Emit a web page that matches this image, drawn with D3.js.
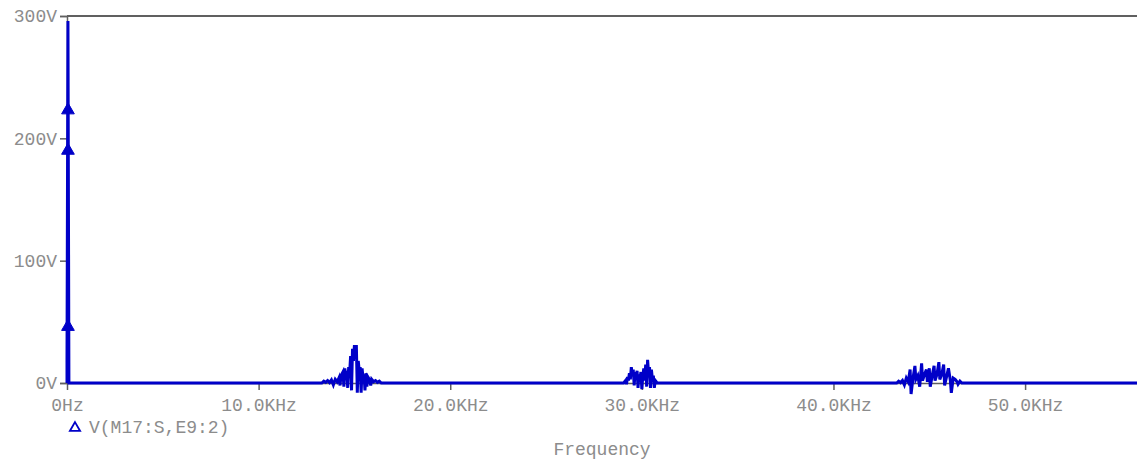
<!DOCTYPE html>
<html>
<head>
<meta charset="utf-8">
<script src="https://cdn.jsdelivr.net/npm/d3@7"></script>
<style>
  html, body { margin: 0; padding: 0; background: #fff; }
  svg { display: block; }
  .lbl { font-family: "Liberation Mono", "DejaVu Sans Mono", monospace; font-size: 18px; fill: #8c8c8c; }
</style>
</head>
<body>
<svg id="chart" width="1137" height="461"></svg>
<script>
// Frequency axis (kHz) and voltage axis (V)
const xTicks = [0, 10, 20, 30, 40, 50];
const xTickLabels = ["0Hz", "10.0KHz", "20.0KHz", "30.0KHz", "40.0KHz", "50.0KHz"];
const yTicks = [0, 100, 200, 300];
const yTickLabels = ["0V", "100V", "200V", "300V"];
const xMaxKHz = 55.84;

// Low-frequency spike near 0 Hz: [kHz, V]
const spike = [[0, 0], [0, 17], [0.05, 296], [0.1, 0]];
// Markers placed on the trace: [kHz, V]
const markers = [[0.05, 223], [0.05, 190], [0.05, 46]];

// Sideband cluster around 15 kHz: [kHz, V]
const band15 = [
  [13.30, 0], [13.40, 1.5], [13.50, 0.5], [13.60, 2.0], [13.70, 0.3], [13.80, 2.5],
  [13.90, -1.5], [14.00, 3.0], [14.10, 1.0], [14.20, 4.5], [14.25, -2], [14.30, 6],
  [14.40, 9], [14.45, -3], [14.50, 12], [14.55, 5], [14.60, 10], [14.65, -4],
  [14.70, 13], [14.75, 8], [14.80, 22], [14.85, -6], [14.90, 28], [14.95, 18],
  [15.00, 31], [15.05, 24], [15.10, 31], [15.15, -8], [15.20, 18], [15.25, 10],
  [15.30, 13], [15.35, -8], [15.40, 12], [15.45, 4], [15.50, 7], [15.55, -6],
  [15.60, 8], [15.65, -3], [15.70, 5], [15.80, 2.5], [15.85, -2], [15.90, 3],
  [16.00, 1], [16.10, 2], [16.20, 0.5], [16.30, 1.5], [16.40, 0]
];

// Sideband cluster around 30 kHz: [kHz, V]
const band30 = [
  [29.05, 0], [29.15, 2], [29.20, -1], [29.25, 5], [29.30, 2], [29.35, 8],
  [29.40, 3], [29.45, 13], [29.50, 6], [29.55, 11], [29.60, -2], [29.65, 9],
  [29.70, 4], [29.75, 10], [29.80, -4], [29.85, 7], [29.90, 3], [29.95, 9],
  [30.00, -5], [30.05, 6], [30.10, 12], [30.15, 2], [30.20, 15], [30.25, -3],
  [30.30, 19], [30.35, 8], [30.40, 13], [30.45, -4], [30.50, 11], [30.55, 3],
  [30.60, 6], [30.65, -4], [30.70, 2], [30.80, 0]
];

// Sideband cluster around 45 kHz: [kHz, V]
const band45 = [
  [43.30, 0], [43.40, 1.5], [43.50, 0.3], [43.60, 2], [43.70, -1.5], [43.80, 4],
  [43.90, 1], [44.00, 11], [44.05, -9], [44.15, 4], [44.25, 14], [44.30, 3],
  [44.40, 6], [44.50, -3], [44.60, 16], [44.65, 2], [44.75, 7], [44.85, 11],
  [44.90, 1], [45.00, 12], [45.05, -3], [45.15, 6], [45.25, 14], [45.30, 2],
  [45.40, 7], [45.50, 17], [45.55, 3], [45.65, 7], [45.75, 15], [45.80, -2],
  [45.90, 5], [46.00, 12], [46.10, 2], [46.15, -8], [46.25, 4], [46.35, 3],
  [46.45, 1], [46.50, -1], [46.60, 1.5], [46.70, 0]
];

const seriesName = "V(M17:S,E9:2)";
const xTitle = "Frequency";

const trace = [].concat(spike, band15, band30, band45, [[xMaxKHz, 0]]);

const margin = { left: 67, right: 0, top: 16, bottom: 78 };
const W = 1137, H = 461;
const svg = d3.select("#chart");

const x = d3.scaleLinear().domain([0, xMaxKHz]).range([margin.left, W - margin.right]);
const y = d3.scaleLinear().domain([0, 300]).range([H - margin.bottom, margin.top]);

const axisColor = "#606060";
const traceColor = "#0000c8";

// top frame line
svg.append("line")
  .attr("x1", x(0)).attr("x2", x(xMaxKHz))
  .attr("y1", y(300)).attr("y2", y(300))
  .attr("stroke", axisColor).attr("stroke-width", 2);

// y axis
const yAxis = d3.axisLeft(y).tickValues(yTicks)
  .tickFormat((d, i) => yTickLabels[i]).tickSize(7).tickPadding(3);
const gy = svg.append("g").attr("transform", `translate(${x(0)},0)`).call(yAxis);
gy.select(".domain").attr("stroke", axisColor).attr("stroke-width", 1.5);
gy.selectAll(".tick line").attr("stroke", axisColor).attr("stroke-width", 1.5);
gy.selectAll(".tick text").attr("class", "lbl").attr("font-size", null).attr("font-family", null);

// x axis
const xAxis = d3.axisBottom(x).tickValues(xTicks)
  .tickFormat((d, i) => xTickLabels[i]).tickSize(7).tickPadding(8).tickSizeOuter(0);
const gx = svg.append("g").attr("transform", `translate(0,${y(0)})`).call(xAxis);
gx.select(".domain").attr("stroke", axisColor).attr("stroke-width", 1.5);
gx.selectAll(".tick line").attr("stroke", axisColor).attr("stroke-width", 1.5);
gx.selectAll(".tick text").attr("class", "lbl").attr("font-size", null).attr("font-family", null);

// trace
const line = d3.line().x(d => x(d[0])).y(d => y(d[1]));
svg.append("path")
  .datum(trace)
  .attr("d", line)
  .attr("fill", "none")
  .attr("stroke", traceColor)
  .attr("stroke-width", 3)
  .attr("stroke-linejoin", "miter");

// markers
const tri = d3.symbol().type(d3.symbolTriangle).size(70);
svg.selectAll(".mk").data(markers).enter().append("path")
  .attr("class", "mk")
  .attr("d", tri)
  .attr("transform", d => `translate(${x(d[0])},${y(d[1])})`)
  .attr("fill", traceColor).attr("stroke", traceColor).attr("stroke-width", 1);

// legend
svg.append("path")
  .attr("d", d3.symbol().type(d3.symbolTriangle).size(45))
  .attr("transform", `translate(75,428)`)
  .attr("fill", "none").attr("stroke", traceColor).attr("stroke-width", 1.8);
svg.append("text").attr("class", "lbl")
  .attr("x", 89).attr("y", 433)
  .text(seriesName);

// axis title
svg.append("text").attr("class", "lbl")
  .attr("x", (x(0) + x(xMaxKHz)) / 2).attr("y", 455)
  .attr("text-anchor", "middle")
  .text(xTitle);
</script>
</body>
</html>
